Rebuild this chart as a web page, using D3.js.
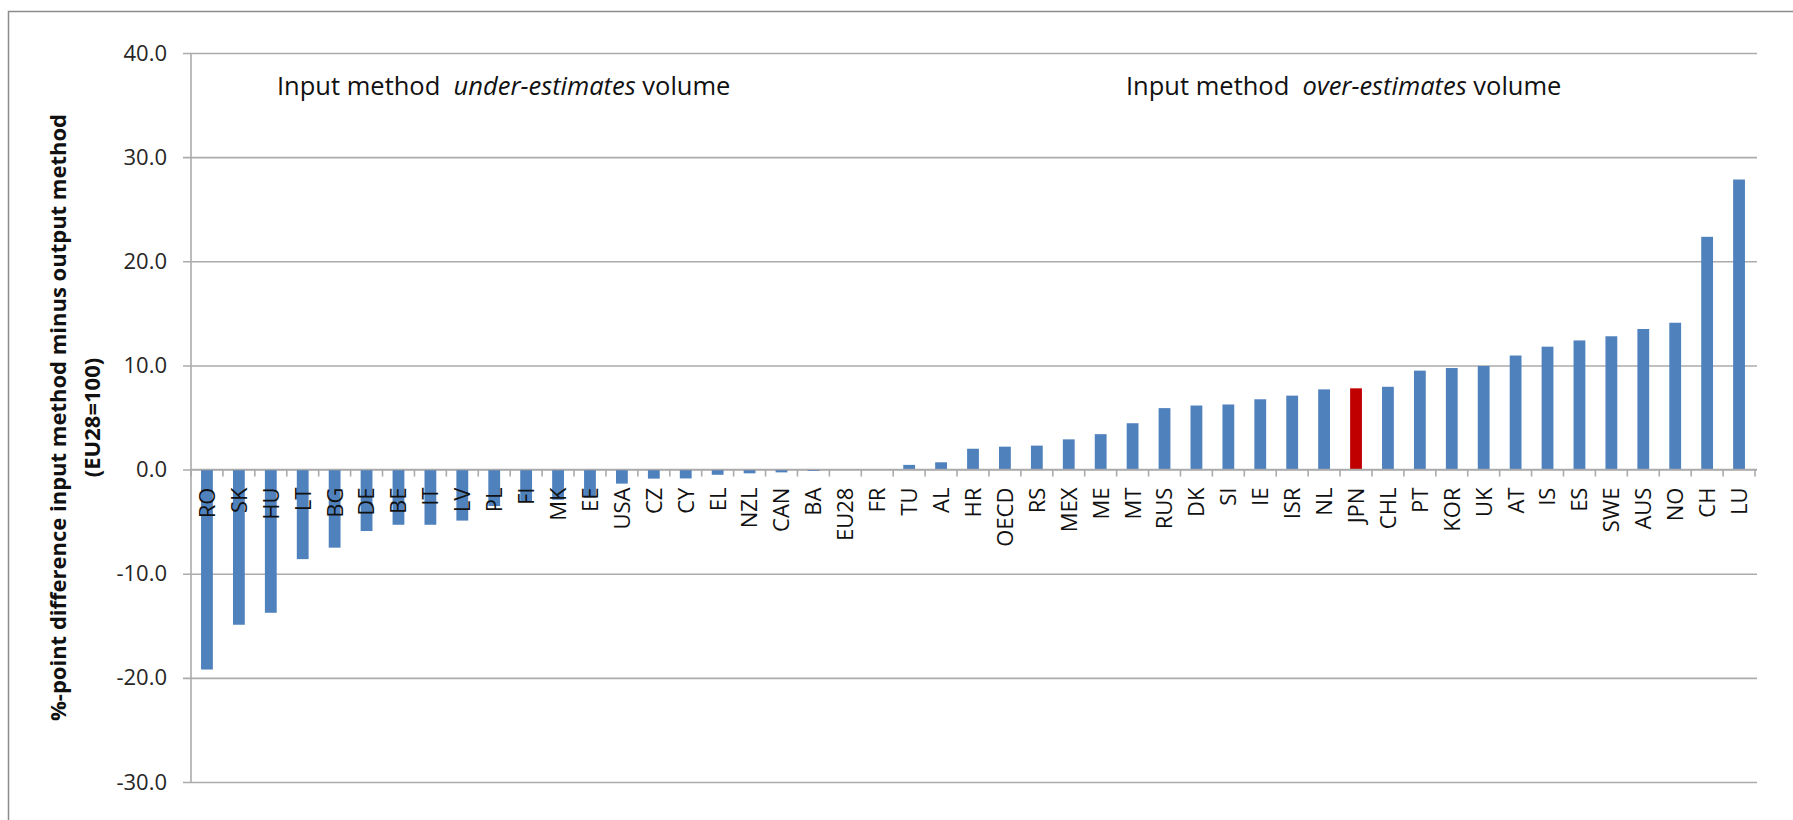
<!DOCTYPE html>
<html>
<head>
<meta charset="utf-8">
<script src="https://cdn.jsdelivr.net/npm/d3@7"></script>
<style>
  html, body { margin: 0; padding: 0; background: #fff; }
  svg { display: block; }
</style>
</head>
<body>
<script>
// ---- data ----
const categories = ["RO","SK","HU","LT","BG","DE","BE","IT","LV","PL","FI","MK","EE","USA","CZ","CY","EL","NZL","CAN","BA","EU28","FR","TU","AL","HR","OECD","RS","MEX","ME","MT","RUS","DK","SI","IE","ISR","NL","JPN","CHL","PT","KOR","UK","AT","IS","ES","SWE","AUS","NO","CH","LU"];
const values = [-19.2,-14.9,-13.75,-8.6,-7.5,-5.9,-5.3,-5.3,-4.9,-3.5,-3.1,-2.9,-2.7,-1.35,-0.87,-0.85,-0.5,-0.36,-0.27,-0.13,0,0,0.45,0.7,2.0,2.2,2.3,2.9,3.4,4.45,5.9,6.15,6.25,6.75,7.1,7.7,7.8,7.95,9.5,9.75,9.95,10.95,11.8,12.4,12.8,13.5,14.1,22.35,27.85];
const highlighted = ["JPN"];
const yTicks = [-30,-20,-10,0,10,20,30,40];
const yTitle = ["%-point difference input method minus output method", "(EU28=100)"];
const noteLeft = ["Input method  ", "under-estimates", " volume"];
const noteRight = ["Input method  ", "over-estimates", " volume"];

// ---- layout ----
const W = 1793, H = 820;
const plotL = 191, plotR = 1755, plotT = 53, plotB = 782, gridR = 1757;
const font = "'Open Sans', 'Noto Sans', sans-serif";

const svg = d3.select("body").append("svg")
  .attr("width", W).attr("height", H)
  .style("font-family", font);

svg.append("rect").attr("width", W).attr("height", H).attr("fill", "#fff");

// outer border (left + top visible)
svg.append("path")
  .attr("d", `M8.5,${H + 5} V11.5 H${W + 5}`)
  .attr("fill", "none").attr("stroke", "#8c8c8c").attr("stroke-width", 1.5);

const x = d3.scaleBand().domain(categories).range([plotL, plotR])
  .paddingInner(0.63).paddingOuter(0.315);
const xb = d3.scaleBand().domain(categories).range([plotL, plotR]).padding(0);
const y = d3.scaleLinear().domain([-30, 40]).range([plotB, plotT]);

const fmt = d3.formatLocale({ decimal: ".", thousands: ",", grouping: [3], currency: ["", ""], minus: "-" }).format(".1f");

// gridlines + y axis
const yAxis = d3.axisLeft(y).tickValues(yTicks).tickFormat(fmt)
  .tickSize(-(gridR - plotL)).tickPadding(24);
const gy = svg.append("g").attr("transform", `translate(${plotL},0)`).call(yAxis);
gy.select(".domain").remove();
gy.selectAll(".tick line").attr("stroke", "#ababab").attr("stroke-width", 1.6)
  .attr("x1", -8);
gy.selectAll(".tick text").attr("font-size", 22).attr("fill", "#262626")
  .attr("font-family", font);

// vertical axis line
svg.append("line").attr("x1", plotL).attr("x2", plotL)
  .attr("y1", y(-30)).attr("y2", y(40))
  .attr("stroke", "#ababab").attr("stroke-width", 1.6);

// bars
svg.append("g").selectAll("rect").data(categories).join("rect")
  .attr("x", d => x(d))
  .attr("width", x.bandwidth())
  .attr("y", (d, i) => y(Math.max(0, values[i])))
  .attr("height", (d, i) => Math.abs(y(values[i]) - y(0)))
  .attr("fill", d => highlighted.includes(d) ? "#c00000" : "#4f81bd");

// x axis line at zero with ticks at band boundaries
svg.append("line").attr("x1", plotL).attr("x2", gridR)
  .attr("y1", y(0)).attr("y2", y(0))
  .attr("stroke", "#ababab").attr("stroke-width", 1.6);
const bounds = categories.map(c => xb(c)).concat([plotR]);
svg.append("g").selectAll("line").data(bounds).join("line")
  .attr("x1", d => d).attr("x2", d => d)
  .attr("y1", y(0)).attr("y2", y(0) + 7)
  .attr("stroke", "#ababab").attr("stroke-width", 1.6);

// category labels (rotated)
svg.append("g").selectAll("text").data(categories).join("text")
  .attr("transform", d => `translate(${x(d) + x.bandwidth() / 2},${y(0) + 18}) rotate(-90)`)
  .attr("text-anchor", "end")
  .attr("dy", "0.36em")
  .attr("font-size", 22)
  .attr("fill", "#111")
  .text(d => d);

// y axis title
const tcy = (plotT + plotB) / 2;
svg.append("text")
  .attr("transform", `translate(58,${tcy}) rotate(-90)`)
  .attr("text-anchor", "middle").attr("dy", "0.36em")
  .attr("font-size", 22).attr("font-weight", "bold").attr("fill", "#111")
  .text(yTitle[0]);
svg.append("text")
  .attr("transform", `translate(92,${tcy}) rotate(-90)`)
  .attr("text-anchor", "middle").attr("dy", "0.36em")
  .attr("font-size", 22).attr("font-weight", "bold").attr("fill", "#111")
  .text(yTitle[1]);

// annotations
function note(parts, xPos) {
  const t = svg.append("text").attr("x", xPos).attr("y", 95)
    .attr("font-size", 25.5).attr("fill", "#111")
    .attr("xml:space", "preserve").style("white-space", "pre");
  parts.forEach((p, i) => {
    t.append("tspan").text(p).attr("font-style", i === 1 ? "italic" : "normal");
  });
}
note(noteLeft, 277);
note(noteRight, 1126);
</script>
</body>
</html>
